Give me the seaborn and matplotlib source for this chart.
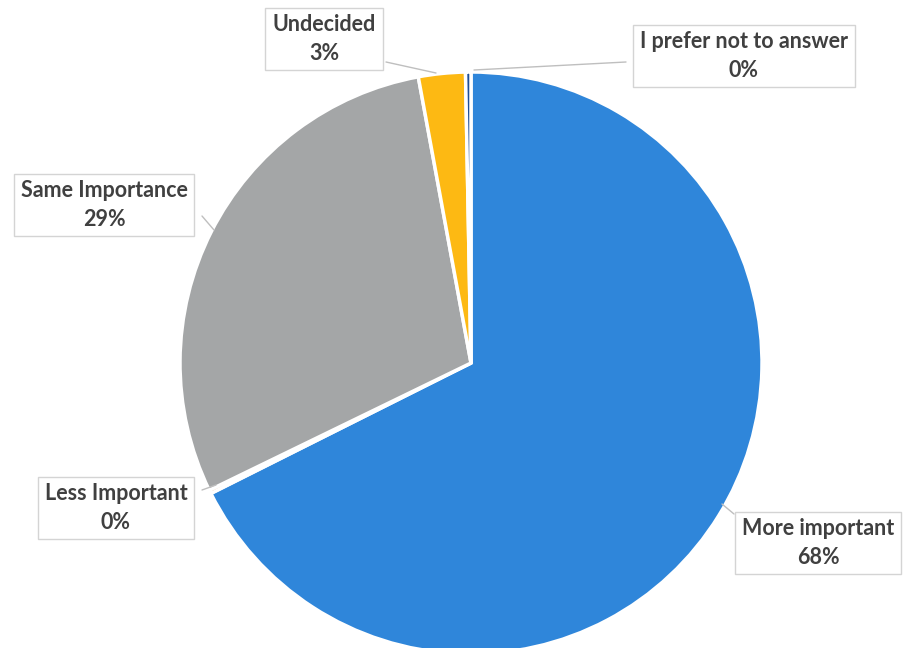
import matplotlib
matplotlib.use("Agg")
import matplotlib.pyplot as plt
import seaborn as sns

# answers, clockwise from the top of the pie
labels = ["More important", "Less Important", "Same Importance", "Undecided", "I prefer not to answer"]
shares = [67.6, 0.2, 29.3, 2.6, 0.3]
colors = ["#2F86DA", "#ED7D31", "#A4A6A7", "#FDB913", "#1F4E96"]

sns.set_theme(style="white")
plt.rcParams["font.family"] = ["Lato", "DejaVu Sans"]

fig = plt.figure(figsize=(9.12, 6.48), dpi=100)
ax = fig.add_axes([0, 0, 1, 1])

# pie in pixel space (y measured from the bottom)
cx, cy, r = 471, 285, 291
ax.pie(shares, colors=colors, startangle=90, counterclock=False,
       center=(cx, cy), radius=r, frame=True,
       wedgeprops=dict(edgecolor="white", linewidth=2.5))
ax.set_xlim(0, 912)
ax.set_ylim(0, 648)
ax.set_aspect("equal")
ax.axis("off")

# label box centre and leader line (box end -> slice end)
label_pos = {
    "More important": (818, 105, [(734, 134), (722, 144)]),
    "Less Important": (116, 140, [(202, 158), (216, 163)]),
    "Same Importance": (104, 443, [(202, 432), (214, 418)]),
    "Undecided": (324, 609, [(386, 586), (436, 575)]),
    "I prefer not to answer": (744, 592, [(626, 586), (474, 578)]),
}

for lab, val in zip(labels, shares):
    x, y, line = label_pos[lab]
    (x1, y1), (x2, y2) = line
    ax.plot([x1, x2], [y1, y2], color="#BFBFBF", lw=1)
    ax.text(x, y, f"{lab}\n{round(val)}%", ha="center", va="center",
            fontsize=15.5, fontweight="bold", color="#404040", linespacing=1.42,
            bbox=dict(boxstyle="square,pad=0.32", fc="white", ec="#D4D4D4", lw=1))

fig.savefig("out.png", dpi=100)
